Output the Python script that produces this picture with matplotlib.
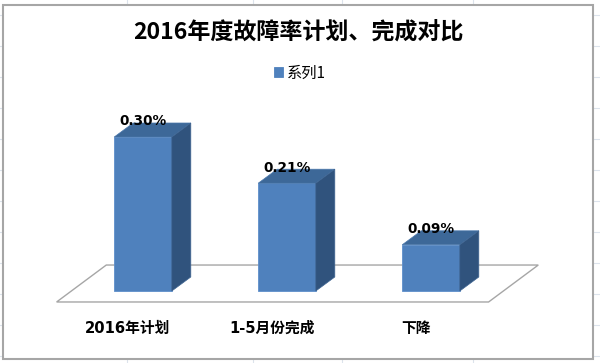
import matplotlib
matplotlib.use('Agg')
import matplotlib.pyplot as plt
from matplotlib.patches import Polygon, Rectangle
from matplotlib.lines import Line2D

# chart data
categories = ['2016年计划', '1-5月份完成', '下降']
values = [0.30, 0.21, 0.09]          # percent
value_labels = ['0.30%', '0.21%', '0.09%']
series_name = '系列1'
title = '2016年度故障率计划、完成对比'

front_col = '#4f81bd'
top_col = '#3d6898'
side_col = '#30537d'

W, H = 600, 363
fig = plt.figure(figsize=(W / 100, H / 100), dpi=100)

# spreadsheet gridlines peeking out round the chart frame
grid_x = [127, 253, 342, 473]
grid_y = [15, 46, 77, 108, 139, 170, 201, 232, 263, 294, 325, 356]
for gx in grid_x:
    fig.add_artist(Line2D([gx / W, gx / W], [0, 1], color='#dce3ec', lw=0.8, zorder=-3))
for gy in grid_y:
    fig.add_artist(Line2D([0, 1], [1 - gy / H, 1 - gy / H], color='#dce3ec', lw=0.8, zorder=-3))

# chart frame
fig.add_artist(Rectangle((3 / W, 1 - 359 / H), 590 / W, 354 / H, transform=fig.transFigure,
                         facecolor='white', edgecolor='#a6a6a6', lw=1.5, zorder=-1))

ax = fig.add_axes([0, 0, 1, 1])
ax.patch.set_visible(False)
ax.axis('off')
# pixel layout: bar centres 144px apart, zero line at y=291px, 513px per 1%
ax.set_xlim(-143 / 144, (W - 143) / 144)
ax.set_ylim((291 - H) / 513.3, 291 / 513.3)

n = len(values)
xs = list(range(n))
bw = 0.40
ddx, ddy = 0.132, 0.0273   # bar depth offset

# floor
fl, fr, fy0 = -0.6, n - 0.6, -0.0214
fdx, fdy = 0.345, 0.072
ax.add_patch(Polygon([(fl, fy0), (fr, fy0), (fr + fdx, fy0 + fdy), (fl + fdx, fy0 + fdy)],
                     closed=True, facecolor='white', edgecolor='#a6a6a6', lw=1.0, zorder=1))

bars = ax.bar(xs, values, width=bw, color=front_col, edgecolor='#5e8fcb', lw=0.6,
              zorder=3, label=series_name)
for x, v in zip(xs, values):
    r = x + bw / 2
    l = x - bw / 2
    ax.add_patch(Polygon([(l, v), (r, v), (r + ddx, v + ddy), (l + ddx, v + ddy)],
                         closed=True, facecolor=top_col, edgecolor='#4a77ab', lw=0.5, zorder=3))
    ax.add_patch(Polygon([(r, 0), (r, v), (r + ddx, v + ddy), (r + ddx, ddy)],
                         closed=True, facecolor=side_col, edgecolor='#3f6592', lw=0.5, zorder=3))

for x, v, t in zip(xs, values, value_labels):
    ax.text(x, v + ddy + 0.003, t, ha='center', va='center', fontsize=9.8,
            fontweight='bold', family='DejaVu Sans', zorder=5)

for x, c in zip(xs, categories):
    ax.text(x - 0.107, -0.073, c, ha='center', va='center', fontsize=10.6,
            fontweight='bold', family=['DejaVu Sans', 'Noto Sans CJK SC'])

fig.text(298.5 / W, 1 - 33 / H, title, ha='center', va='center', fontsize=16.6,
         fontweight='bold', family=['Noto Sans CJK SC', 'DejaVu Sans'])

leg = fig.legend(handles=[bars.patches[0]], labels=[series_name], loc='center',
                 bbox_to_anchor=(300 / W, 1 - 73 / H), frameon=False,
                 handlelength=0.6, handleheight=0.6, handletextpad=0.3,
                 prop={'family': 'Noto Sans CJK SC', 'size': 11})
leg.legend_handles[0].set_edgecolor(front_col)

fig.savefig('out.png', dpi=100)
